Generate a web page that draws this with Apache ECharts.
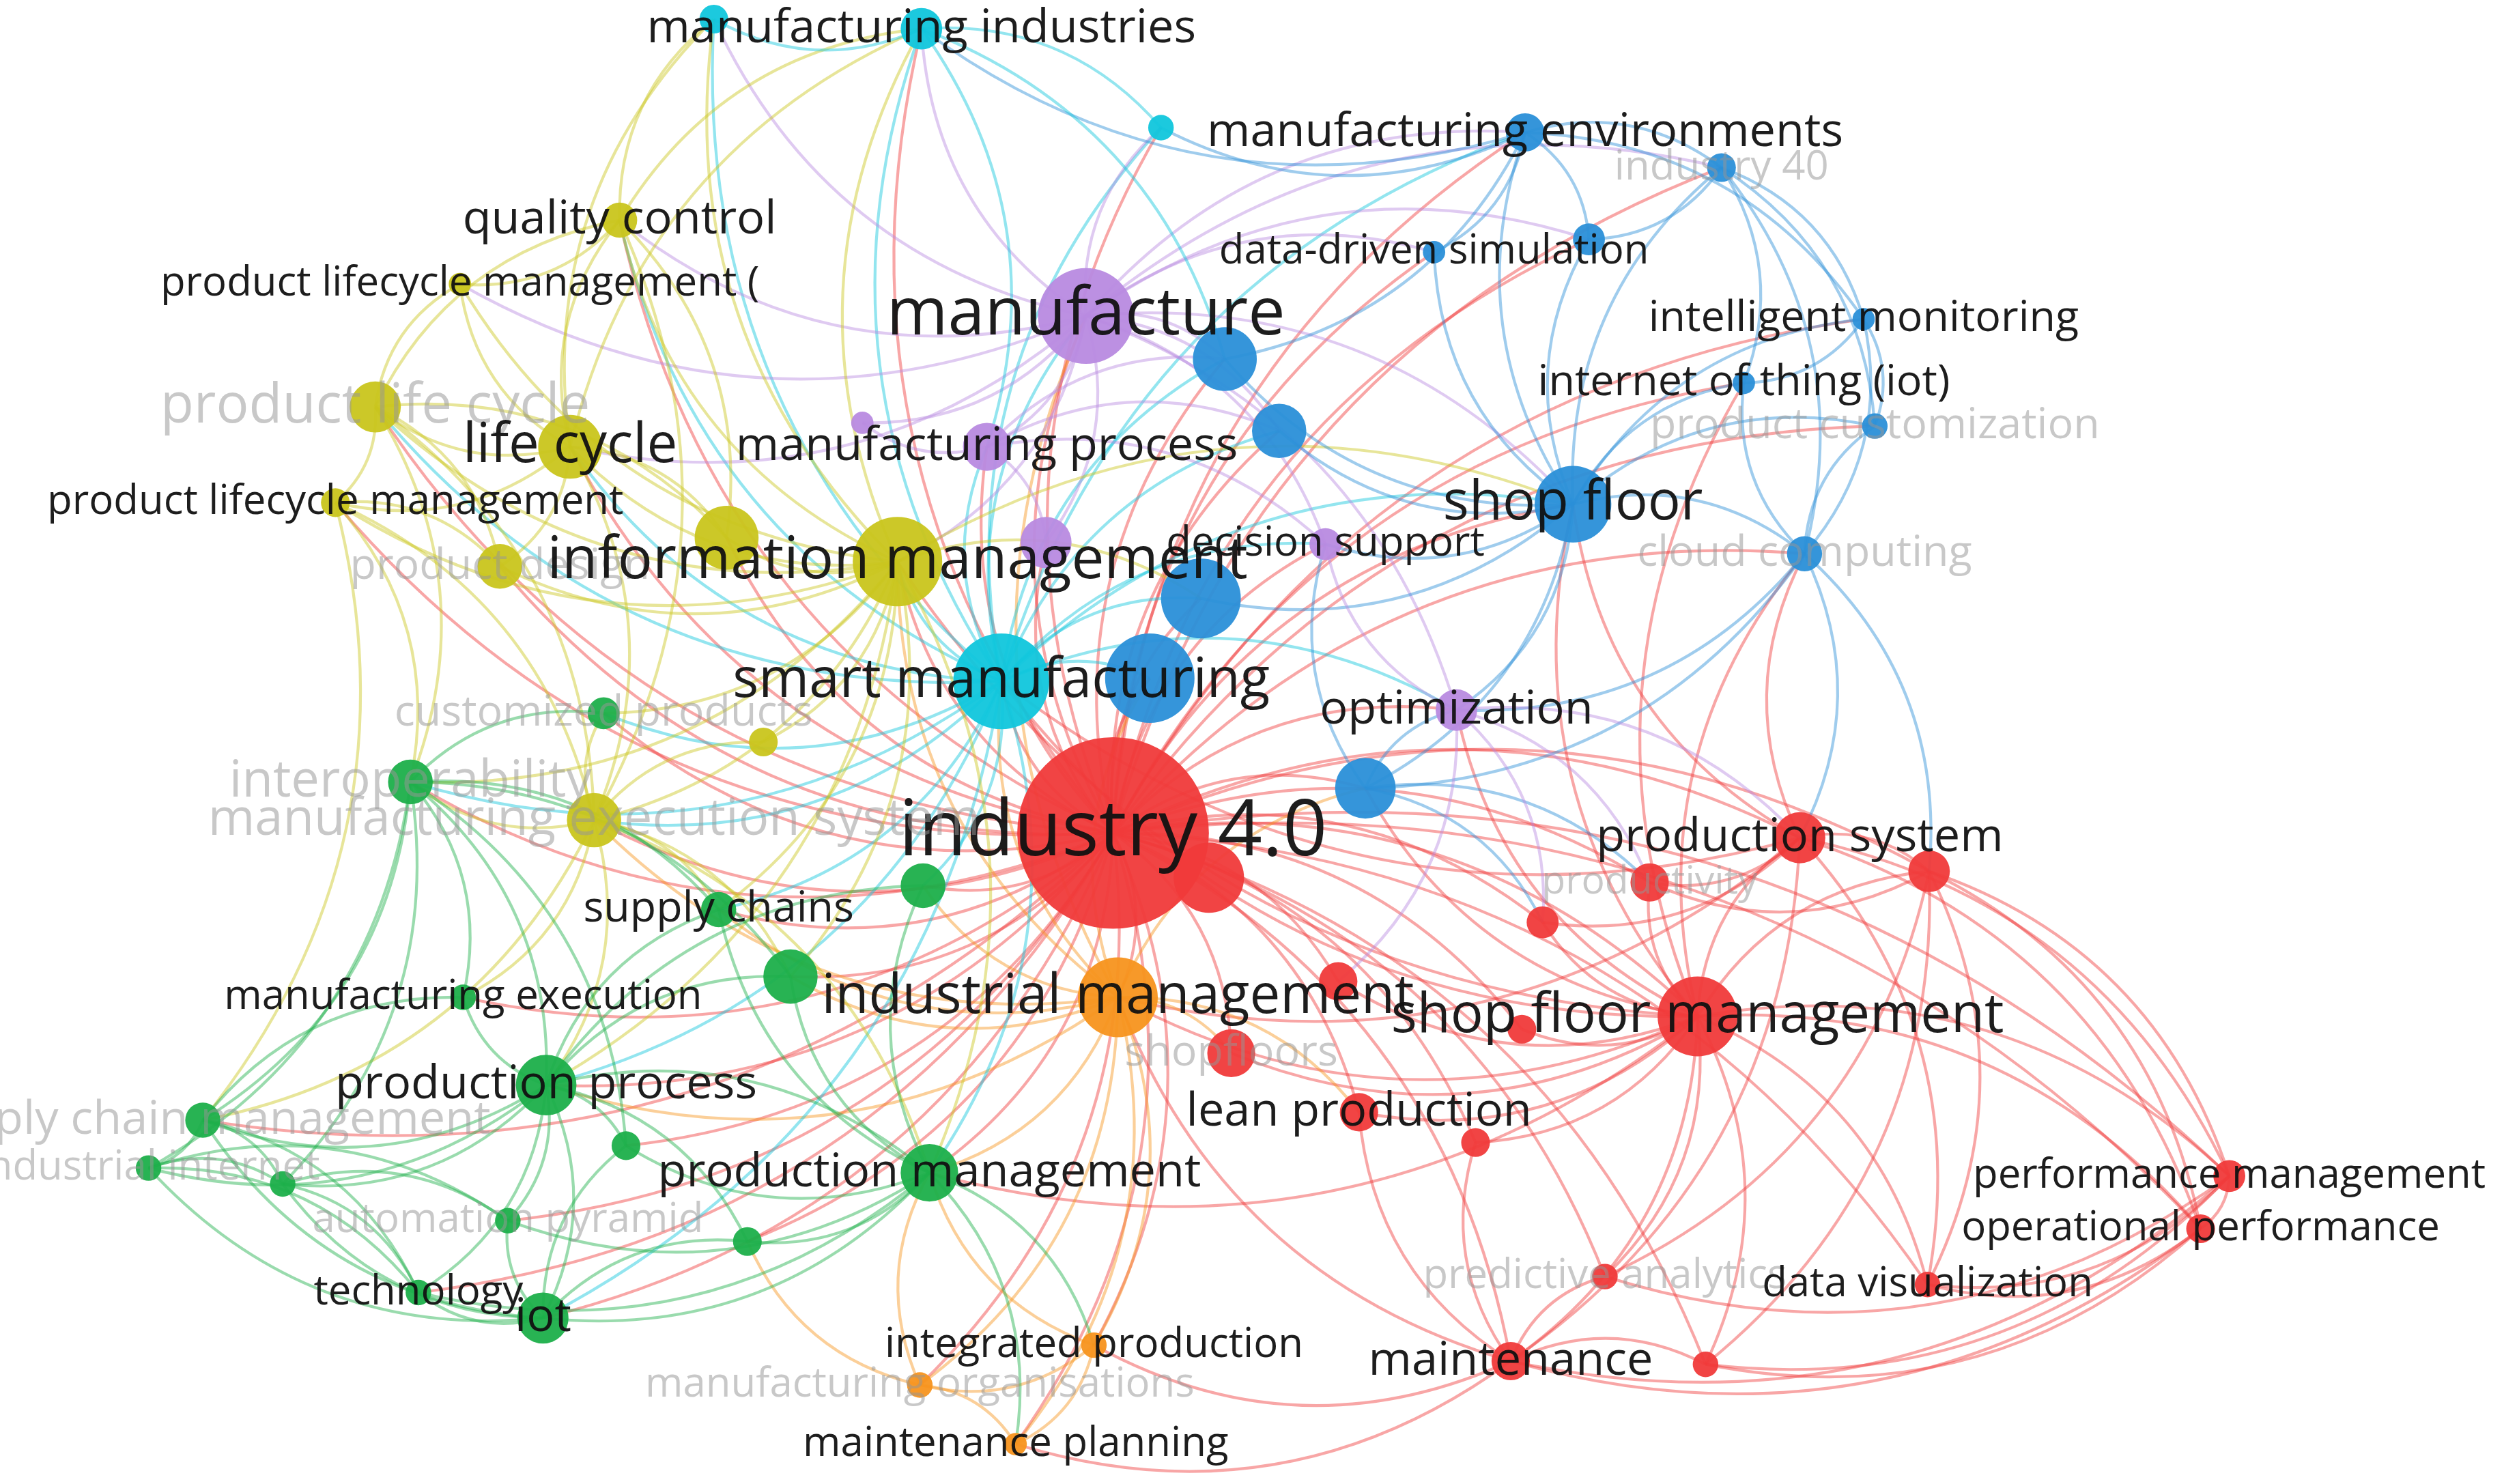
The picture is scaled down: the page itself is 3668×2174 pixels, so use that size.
<!DOCTYPE html>
<html><head><meta charset="utf-8">
<script src="https://cdn.jsdelivr.net/npm/echarts@6/dist/echarts.min.js"></script>
<style>html,body{margin:0;padding:0;background:#fff}#c{width:3668px;height:2174px}</style>
</head><body><div id="c"></div>
<script>
// [key, label, x, y, radius, cluster, labelSize, faded]
const nodes = [
['I4','industry 4.0',697,522,60,'red',40,0],['R1','',757,550,22,'red',0,0],
['PSY','production system',1127,525,16,'red',24,0],['PRD','productivity',1033,553,12,'red',20,1],
['R2','',1208,546,13,'red',0,0],['R3','',966,578,10,'red',0,0],
['SFM','shop floor management',1063,637,25,'red',28,0],['R4','',838,615,12,'red',0,0],
['SHF','shopfloors',771,660,15,'red',22,1],['LP','lean production',851,697,12,'red',24,0],
['R5','',924,716,9,'red',0,0],['R6','',953,645,9,'red',0,0],
['PFM','performance management',1396,737,10,'red',21,0],['OP','operational performance',1378,770,9,'red',21,0],
['PA','predictive analytics',1005,800,8,'red',21,1],['DV','data visualization',1207,805,8,'red',21,0],
['MT','maintenance',946,853,12,'red',24,0],['R7','',1068,855,8,'red',0,0],
['IMG','industrial management',700,625,25,'orange',28,0],['IP','integrated production',685,843,8,'orange',21,0],
['MO','manufacturing organisations',576,868,8,'orange',21,1],['MP','maintenance planning',636,905,7,'orange',21,0],
['G1','',578,555,14,'green',0,0],['SC','supply chains',450,570,11,'green',22,0],
['G2','',495,612,17,'green',0,0],['ME','manufacturing execution',290,625,8,'green',21,0],
['PP','production process',342,680,19,'green',24,0],['PM','production management',582,735,18,'green',24,0],
['G3','',392,718,9,'green',0,0],['G4','',468,778,9,'green',0,0],
['AP','automation pyramid',318,765,8,'green',21,1],['TE','technology',262,810,8,'green',21,0],
['IOT','iot',340,826,16,'green',24,0],['SCM','supply chain management',127,702,11,'green',24,1],
['II','industrial internet',93,732,8,'green',21,1],['G5','',177,742,8,'green',0,0],
['INT','interoperability',257,490,14,'green',26,1],['CP','customized products',378,447,10,'green',22,1],
['QC','quality control',388,138,11,'yellow',24,0],['PLM1','product lifecycle management (',288,178,7,'yellow',21,0],
['PLC','product life cycle',235,255,16,'yellow',28,1],['LC','life cycle',357,280,20,'yellow',28,0],
['PLM','product lifecycle management',210,315,9,'yellow',21,0],['PD','product design',313,355,14,'yellow',22,1],
['Y1','',455,337,20,'yellow',0,0],['IM','information management',562,352,28,'yellow',30,0],
['MES','manufacturing execution system',372,514,17,'yellow',26,1],['Y2','',478,465,9,'yellow',0,0],
['MI','manufacturing industries',577,18,13,'cyan',24,0],['C1','',447,12,9,'cyan',0,0],
['C2','',727,80,8,'cyan',0,0],['SM','smart manufacturing',627,427,30,'cyan',28,0],
['MEV','manufacturing environments',955,83,12,'blue',24,0],['I40','industry 40',1078,105,9,'blue',21,1],
['DDS','data-driven simulation',898,158,7,'blue',21,0],['B1','',995,150,10,'blue',0,0],
['IMO','intelligent monitoring',1167,200,7,'blue',22,0],['IOTT','internet of thing (iot)',1092,240,7,'blue',22,0],
['PCU','product customization',1174,267,8,'blue',22,1],['B2','',767,225,20,'blue',0,0],
['B3','',801,270,17,'blue',0,0],['SF','shop floor',985,316,24,'blue',28,0],
['CC','cloud computing',1130,347,11,'blue',22,1],['B4','',752,375,25,'blue',0,0],
['B5','',720,425,28,'blue',0,0],['B6','',855,494,19,'blue',0,0],
['MF','manufacture',680,198,30,'purple',34,0],['MPR','manufacturing process',618,280,15,'purple',24,0],
['P1','',655,340,16,'purple',0,0],['DS','decision support',830,341,10,'purple',21,0],
['OPT','optimization',912,445,13,'purple',24,0],['P2','',540,265,7,'purple',0,0]
];
const clusterColors = {red:'#f03a3a',orange:'#f7941d',green:'#1caf4a',yellow:'#c9c51c',cyan:'#10c6dc',blue:'#2a8fd8',purple:'#b88ae0'};
const adjacency = {
I4:'IM,SM,MF,IMG,SFM,SF,PM,LC,PSY,PRD,R2,R3,R4,SHF,LP,R5,R6,PFM,OP,PA,DV,MT,R7,IP,MO,MP,G1,SC,G2,ME,PP,G3,G4,AP,TE,IOT,SCM,INT,CP,QC,PLC,PLM,PD,Y1,MES,MI,C2,MEV,I40,DDS,B1,IMO,IOTT,PCU,B2,B3,CC,B4,B5,B6,MPR,P1,DS,OPT',
SFM:'PSY,PRD,R2,R3,R4,SHF,LP,R5,R6,PFM,OP,PA,DV,MT,R7,IMG,SF,CC,B6,OPT,IM,SM,PM,IOTT',
PSY:'R2,PRD,PFM,OP,DV,MT,SF,CC,IMG,SM,R3',
R2:'PFM,OP,DV,R7,PA,PRD',
PFM:'OP,DV,R7,MT,PA',
OP:'DV,MT,R7',
MT:'PA,R7,IMG,IP,MP,LP,R5',
IMG:'IP,MO,MP,PM,PP,SM,IM,MF,SHF,LP,G2,G1,SC,MES,B5,B6',
IP:'MP,MO,PM',
MO:'MP,PM,G4',
SM:'IM,MF,MI,C1,C2,MEV,SF,B2,B3,B4,B5,LC,QC,PLC,MES,INT,PM,PP,SC,G1,MPR,OPT,DS,IOT,CP',
MF:'MI,C1,C2,MEV,DDS,B1,I40,B2,B3,SF,IM,LC,QC,PLM1,MPR,P1,DS,OPT,P2',
IM:'LC,QC,PLM1,PLC,PLM,PD,Y1,MES,Y2,CP,INT,MI,C1,SF,B4,PM,PP,SC,G2',
LC:'QC,PLM1,PLC,PLM,PD,Y1,MES,MI,C1',
PLC:'QC,PLM1,PLM,PD,Y1,MES,INT',
QC:'PLM1,MI,C1,Y1,MES',
PLM:'PD,INT,MES,SCM',
MES:'INT,CP,Y2,PP,ME,SC,G2,PM,SCM',
INT:'CP,ME,PP,SCM,II,G5,G3,SC,G2',
PP:'ME,SCM,II,G5,G3,G4,AP,TE,IOT,PM,SC,G1,G2',
PM:'G3,G4,AP,IOT,TE,G2,G1,SC,MP,IP',
IOT:'TE,AP,G5,II,SCM,G3,G4',
SCM:'II,G5,TE,ME',
II:'G5,TE,AP',
G5:'AP,TE',
SF:'MEV,I40,DDS,B1,IMO,IOTT,PCU,CC,B2,B3,B4,B6,DS,OPT',
MEV:'I40,DDS,B1,IMO,C2,MI,B2',
I40:'IMO,IOTT,PCU,CC,B1',
IMO:'IOTT,PCU,CC',
CC:'PCU,IOTT,B6,OPT,PSY,R2',
B6:'OPT,DS,R3,PRD',
OPT:'DS,R3,PRD,PSY,R4',
MI:'C1,C2,B2,MPR',
MPR:'P1,DS,B3,P2,B2'
};
const S = 3668/1568;
const clusterOf = {};
nodes.forEach(n => clusterOf[n[0]] = n[5]);
const data = nodes.map(n => ({
  name: n[0], value: [n[2], n[3]], symbolSize: n[4]*2*S,
  itemStyle: {color: clusterColors[n[5]], opacity: 0.95},
  label: {show: n[6] > 0, formatter: n[1], position: 'inside', fontSize: n[6]*S*1.22,
    fontWeight: 500,
    color: n[7] ? 'rgba(150,150,150,0.55)' : '#111', fontFamily: 'Open Sans'}
}));
const links = [];
Object.keys(adjacency).forEach(s => adjacency[s].split(',').forEach(t => {
  links.push({source: s, target: t,
    lineStyle: {color: clusterColors[clusterOf[s]], opacity: 0.45, width: 1.8*S, curveness: 0.25}});
}));
const chart = echarts.init(document.getElementById('c'));
chart.setOption({
  animation: false,
  backgroundColor: '#fff',
  grid: {left: 0, right: 0, top: 0, bottom: 0},
  xAxis: {type: 'value', min: 0, max: 1568, show: false},
  yAxis: {type: 'value', min: 0, max: 930, inverse: true, show: false},
  series: [{
    type: 'graph', coordinateSystem: 'cartesian2d', layout: 'none',
    data: data, links: links, z: 2,
    labelLayout: {hideOverlap: false},
    emphasis: {disabled: true}
  }]
});
</script></body></html>
